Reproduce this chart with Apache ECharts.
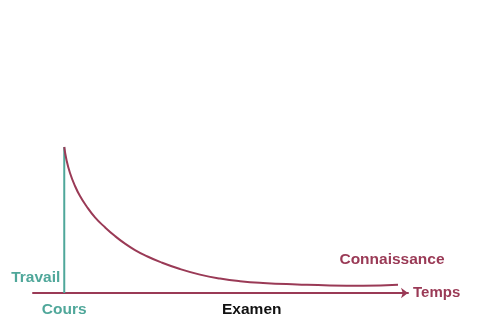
<!DOCTYPE html>
<html><head><meta charset="utf-8">
<script src="https://cdn.jsdelivr.net/npm/echarts@6/dist/echarts.min.js"></script>
<style>html,body{margin:0;padding:0;background:#fff}#c{width:480px;height:322px}</style>
</head><body><div id="c"></div>
<script>
// Knowledge (Connaissance) over time (Temps), % of level reached after the course
const curveTime = [0, 0.072, 0.184, 0.344, 0.504, 0.696, 0.984, 1.304, 1.624, 1.944, 2.264, 2.584, 3.064, 3.704, 4.344, 4.984, 5.624, 6.36, 7.45, 8.50, 9.56, 10.68];
const curveKnowledge = [100, 91.1, 82.2, 73.3, 66.4, 59.9, 51.8, 45.0, 39.0, 33.8, 29.4, 25.8, 21.3, 16.4, 12.6, 9.9, 8.1, 6.9, 5.9, 5.2, 5.0, 5.7];
// Study effort (Travail) at the course moment
const workTime = [0, 0];
const workLevel = [0, 100];
// Axis markers
const tickPositions = [0, 6];
const tickLabels = ['Cours', 'Examen'];
const tickStyles = ['teal', 'black'];

const TEAL = '#4fa79a';
const MAROON = '#9a3a56';
const FONT = '"Liberation Sans", Arial, sans-serif';

const chart = echarts.init(document.getElementById('c'), null, {renderer: 'canvas'});
chart.setOption({
  animation: false,
  grid: {left: 33, right: 72, top: 147, bottom: 29},
  xAxis: {
    type: 'value', min: -1, max: 11, interval: 1,
    name: 'Temps', nameLocation: 'end', nameGap: 5,
    nameTextStyle: {color: MAROON, fontFamily: FONT, fontWeight: 'bold', fontSize: 15, verticalAlign: 'middle', padding: [2, 0, 0, 0]},
    axisLine: {show: true, symbol: ['none', 'arrow'], symbolSize: [8, 7], lineStyle: {color: MAROON, width: 2}},
    axisTick: {show: false},
    splitLine: {show: false},
    axisLabel: {
      margin: 9,
      fontFamily: FONT, fontWeight: 'bold', fontSize: 15.5,
      formatter: v => {
        const i = tickPositions.indexOf(v);
        return i < 0 ? '' : '{' + tickStyles[i] + '|' + tickLabels[i] + '}';
      },
      rich: {
        teal: {color: TEAL, fontFamily: FONT, fontWeight: 'bold', fontSize: 15.5},
        black: {color: '#111', fontFamily: FONT, fontWeight: 'bold', fontSize: 15.5}
      }
    }
  },
  yAxis: {type: 'value', min: 0, max: 100, show: false, splitLine: {show: false}},
  series: [
    {
      type: 'line', name: 'Travail',
      data: workTime.map((t, i) => [t, workLevel[i]]),
      showSymbol: false, symbol: 'none',
      lineStyle: {color: TEAL, width: 2},
      markPoint: {
        symbol: 'circle', symbolSize: 0,
        itemStyle: {color: 'rgba(0,0,0,0)'},
        data: [{coord: [workTime[0], workLevel[0]], value: 1}],
        label: {show: true, formatter: 'Travail', position: 'left', distance: 4, offset: [0, -15],
          color: TEAL, fontFamily: FONT, fontWeight: 'bold', fontSize: 15.5}
      }
    },
    {
      type: 'line', name: 'Connaissance',
      data: curveTime.map((t, i) => [t, curveKnowledge[i]]),
      smooth: 0.5, showSymbol: false, symbol: 'none',
      lineStyle: {color: MAROON, width: 2},
      markPoint: {
        symbol: 'circle', symbolSize: 0,
        itemStyle: {color: 'rgba(0,0,0,0)'},
        data: [{coord: [curveTime[curveTime.length - 1], curveKnowledge[curveKnowledge.length - 1]], value: 1}],
        label: {show: true, formatter: 'Connaissance', position: 'top', distance: 16, offset: [-6, -1],
          color: MAROON, fontFamily: FONT, fontWeight: 'bold', fontSize: 15.5}
      }
    }
  ]
});
</script></body></html>
